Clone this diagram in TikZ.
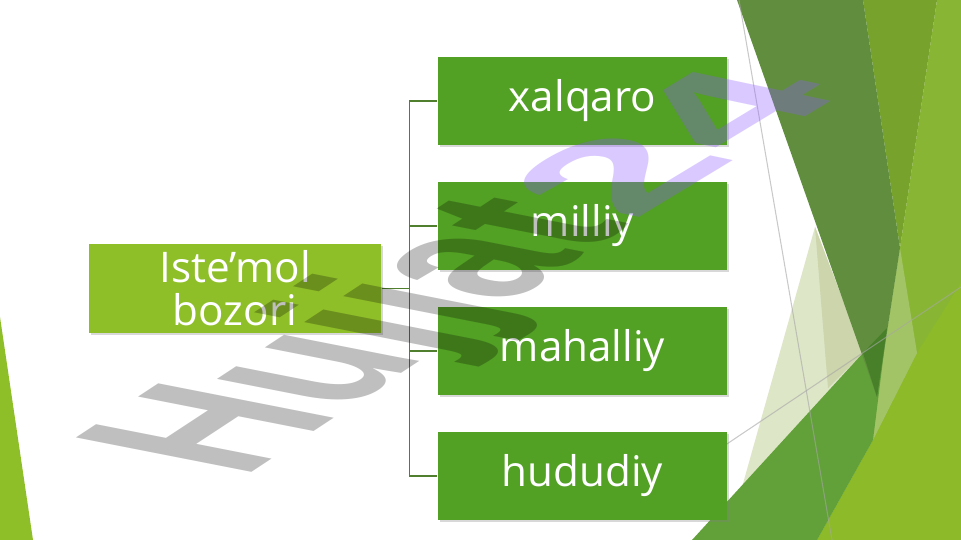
\documentclass[tikz,border=0pt]{standalone}
\usepackage{fontspec}
\setmainfont{Open Sans}
\newfontfamily\markfont{Liberation Sans}
\usetikzlibrary{calc,shadows}

\definecolor{rootgreen}{RGB}{143,191,40}
\definecolor{leafgreen}{RGB}{82,160,36}
\definecolor{linkgreen}{RGB}{80,128,46}
\definecolor{limeright}{RGB}{136,182,52}
\definecolor{limebottom}{RGB}{141,186,40}
\definecolor{olivegreen}{RGB}{119,163,44}
\definecolor{lightband}{RGB}{163,196,102}
\definecolor{palelight}{RGB}{222,230,200}
\definecolor{palemid}{RGB}{204,213,172}
\definecolor{midgreen}{RGB}{98,160,58}
\definecolor{darkfacet}{RGB}{97,142,62}
\definecolor{overlapgreen}{RGB}{72,128,42}
\definecolor{markviolet}{RGB}{140,90,255}

\tikzset{
	box/.style={rectangle, inner sep=0pt, text=white, font=\fontsize{12}{12.2}\selectfont,
		drop shadow={shadow xshift=0.5pt, shadow yshift=-0.7pt, opacity=0.3}},
	rootbox/.style={box, fill=rootgreen, minimum width=2.92cm, minimum height=0.89cm, align=center},
	leafbox/.style={box, fill=leafgreen, minimum width=2.89cm, minimum height=0.88cm},
	link/.style={draw=linkgreen, line width=0.45pt},
	markletters/.style={anchor=base west, inner sep=0pt, transform shape,
		font=\markfont\bfseries\fontsize{10}{12}\selectfont}
}

\begin{document}
\begin{tikzpicture}[x=0.01cm, y=-0.01cm]
			%%%%% START %%%%%
			
			\useasboundingbox (0,0) rectangle (961,540);
			\fill[white] (0,0) rectangle (961,540);
			
			% facets on the right
			\fill[limeright] (937,0) -- (961,0) -- (961,540) -- (817,540) -- (873,440) -- (877,397) -- (900,248) -- cycle;
			\fill[limebottom] (961,283) -- (961,540) -- (817,540) -- (873,440) -- (917,353) -- cycle;
			\fill[olivegreen] (863,0) -- (937,0) -- (900,248) -- cycle;
			\fill[lightband] (900,248) -- (917,353) -- (873,440) -- (877,397) -- cycle;
			\fill[palelight] (815,227) -- (863,353) -- (737,505) -- cycle;
			\fill[palemid] (815,227) -- (863,353) -- (828,388) -- cycle;
			\fill[midgreen] (692,540) -- (863,353) -- (887,328) -- (873,440) -- (817,540) -- cycle;
			\fill[darkfacet] (737,0) -- (863,0) -- (900,248) -- (877,397) -- cycle;
			\fill[overlapgreen] (863,353) -- (887,328) -- (877,397) -- cycle;
			\draw[black!35, line width=0.3pt, opacity=0.6] (739,0) -- (832,540);
			\draw[black!35, line width=0.3pt, opacity=0.6] (700,462) -- (961,287);
			
			% facet on the left
			\fill[rootgreen] (0,317) -- (33,540) -- (0,540) -- cycle;
			
			% boxes
			\node[rootbox] (root) at (235,288.5) {Iste’mol\\bozori};
			\node[leafbox] (xalqaro) at (582.5,101) {xalqaro};
			\node[leafbox] (milliy) at (582.5,226) {milliy};
			\node[leafbox] (mahalliy) at (582.5,351) {mahalliy};
			\node[leafbox] (hududiy) at (582.5,476) {hududiy};
			
			\foreach \leaf in {xalqaro,milliy,mahalliy,hududiy}
				\draw[link] (root.east) -- ($(root.east)!.5!(root.east -| \leaf.west)$) |- (\leaf.west);
			
			% watermark
			\begin{scope}[cm={3.983,2.618,-7.255,1.423,(240,480)}]
				\node[markletters, text=black, text opacity=0.25] (markword) at (0,0) {Hujjat};
			\end{scope}
			\begin{scope}[cm={5.548,3.357,-5.691,1.195,(629,224)}]
				\node[markletters, text=markviolet, text opacity=0.32] (marknum) at (0,0) {24};
			\end{scope}
			
			%%%%% END %%%%%
\end{tikzpicture}
\end{document}
